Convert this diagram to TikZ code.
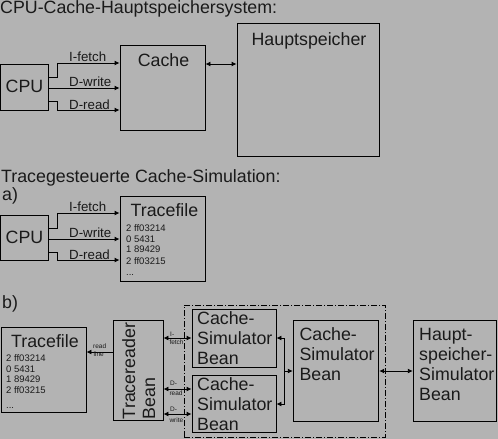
\documentclass[tikz,border=0pt]{standalone}
\usepackage{fontspec}
\setmainfont{Liberation Sans}
\usetikzlibrary{arrows.meta}
\definecolor{bg}{HTML}{B3B3B3}
\definecolor{ink}{HTML}{1A1A1A}
\begin{document}
\begin{tikzpicture}[x=1pt,y=-1pt,
  box/.style={draw=black, line width=0.9pt, inner sep=0pt},
  grpbox/.style={draw=black, line width=0.8pt, inner sep=0pt, dash pattern=on 6pt off 2pt on 1pt off 2pt},
  conn/.style={draw=black, line width=0.9pt},
  arr/.style={conn, -{Latex[length=5pt,width=5pt]}},
  dbl/.style={conn, {Latex[length=5pt,width=5pt]}-{Latex[length=5pt,width=5pt]}},
  big/.style={font=\fontsize{17.8}{20}\selectfont, text=ink, inner sep=0pt, align=left},
  lab/.style={font=\fontsize{13.3}{15}\selectfont, text=ink, inner sep=0pt},
  lst/.style={font=\fontsize{9.5}{11}\selectfont, text=ink, inner sep=0pt},
  tiny/.style={font=\fontsize{6.5}{7}\selectfont, text=ink, inner sep=0pt}
]
\useasboundingbox[fill=bg] (0,0) rectangle (498,439);

% ---------- Part 1 ----------
\node[big, anchor=base west] (t1) at (0,13) {CPU-Cache-Hauptspeichersystem:};
\node[box, minimum width=48pt, minimum height=46pt] (cpu1) at (24.5,87) {};
\node[big] (cpu1t) at (24.5,86.5) {CPU};
\node[box, minimum width=85pt, minimum height=85pt] (cache) at (162.5,87.5) {};
\node[big, anchor=base] (cachet) at (163.5,66) {Cache};
\node[box, minimum width=142pt, minimum height=133pt] (hs) at (308,89.5) {};
\node[big, anchor=base] (hst) at (309,45) {Hauptspeicher};

\draw[dbl] (cache.east |- 0,64) -- (hs.west |- 0,64);
\draw[arr] (cpu1.east |- 0,77) -- (57,77) |- (cache.west |- 0,63);
\draw[arr] (cpu1.east |- 0,88) -- (cache.west |- 0,88);
\draw[arr] (cpu1.east |- 0,101) -- (57,101) |- (cache.west |- 0,110);
\node[lab, anchor=base west] (l1a) at (69,61) {I-fetch};
\node[lab, anchor=base west] (l1b) at (69,86) {D-write};
\node[lab, anchor=base west] (l1c) at (69,109) {D-read};

% ---------- Part a ----------
\node[big, anchor=base west] (t2) at (1,182) {Tracegesteuerte Cache-Simulation:};
\node[big, anchor=base west] (ta) at (2,200) {a)};
\node[box, minimum width=48pt, minimum height=45pt] (cpu2) at (24.5,237.5) {};
\node[big] (cpu2t) at (24.5,237.5) {CPU};
\node[box, minimum width=85pt, minimum height=85pt] (tfa) at (162.5,238.5) {};
\node[big, anchor=base west] (tfat) at (130.5,216.5) {Tracefile};
\node[lst, anchor=base west] (la1) at (126,231) {2 ff03214};
\node[lst, anchor=base west] (la2) at (126,242) {0 5431};
\node[lst, anchor=base west] (la3) at (126,252.7) {1 89429};
\node[lst, anchor=base west] (la4) at (126,264) {2 ff03215};
\node[lst, anchor=base west] (la5) at (126,275) {...};

\draw[arr] (cpu2.east |- 0,228) -- (57,228) |- (tfa.west |- 0,213);
\draw[arr] (cpu2.east |- 0,239) -- (tfa.west |- 0,239);
\draw[arr] (cpu2.east |- 0,252) -- (57,252) |- (tfa.west |- 0,260);
\node[lab, anchor=base west] (l2a) at (69,211.5) {I-fetch};
\node[lab, anchor=base west] (l2b) at (69,237) {D-write};
\node[lab, anchor=base west] (l2c) at (69,259) {D-read};

% ---------- Part b ----------
\node[big, anchor=base west] (tb) at (2,308) {b)};
\node[box, minimum width=85pt, minimum height=85pt] (tfb) at (43.5,370) {};
\node[big, anchor=base west] (tfbt) at (11,347.7) {Tracefile};
\node[lst, anchor=base west] (lb1) at (6,361.7) {2 ff03214};
\node[lst, anchor=base west] (lb2) at (6,372.3) {0 5431};
\node[lst, anchor=base west] (lb3) at (6,382.7) {1 89429};
\node[lst, anchor=base west] (lb4) at (6,393.3) {2 ff03215};
\node[lst, anchor=base west] (lb5) at (6,408) {...};

\node[box, minimum width=50pt, minimum height=100pt] (tr) at (138,370) {};
\node[big, rotate=90, anchor=base west] (trt) at (155,419.3) {Tracereader\\Bean};

\node[grpbox, minimum width=201pt, minimum height=132pt] (grp) at (284.5,371) {};
\node[box, minimum width=84pt, minimum height=58pt] (csb1) at (234,338) {};
\node[big, anchor=base west] (csb1t) at (197,364) {Cache-\\Simulator\\Bean};
\node[box, minimum width=84pt, minimum height=57pt] (csb2) at (234,403.5) {};
\node[big, anchor=base west] (csb2t) at (197,430) {Cache-\\Simulator\\Bean};
\node[box, minimum width=85.5pt, minimum height=101pt] (bigc) at (336,371) {};
\node[big, anchor=base west] (bigct) at (299.3,380) {Cache-\\Simulator\\Bean};
\node[box, minimum width=83.5pt, minimum height=101pt] (hsb) at (455,371) {};
\node[big, anchor=base west] (hsbt) at (419,400) {Haupt-\\speicher-\\Simulator\\Bean};

\draw[arr] (tr.west |- 0,352) -- (tfb.east |- 0,352);
\node[tiny, anchor=base west] (rl1) at (93,348) {read};
\node[tiny, anchor=base west] (rl2) at (93.5,356.7) {line};

\draw[dbl] (tr.east |- 0,338) -- (csb1.west |- 0,338);
\draw[dbl] (tr.east |- 0,389) -- (csb2.west |- 0,389);
\draw[dbl] (tr.east |- 0,414) -- (csb2.west |- 0,414);
\node[tiny, anchor=base west] (f1) at (170,336) {I-};
\node[tiny, anchor=base west] (f2) at (169.3,344) {fetch};
\node[tiny, anchor=base west] (r1) at (170,385) {D-};
\node[tiny, anchor=base west] (r2) at (169.3,395) {read};
\node[tiny, anchor=base west] (w1) at (170,411.5) {D-};
\node[tiny, anchor=base west] (w2) at (169.3,422) {write};

\coordinate (jn) at (284,371);
\draw[arr] (jn) |- (csb1.east);
\draw[arr] (jn) |- (csb2.east |- 0,404);
\draw[arr] (jn) -- (bigc.west);
\draw[dbl] (bigc.east) -- (hsb.west);
\end{tikzpicture}
\end{document}
